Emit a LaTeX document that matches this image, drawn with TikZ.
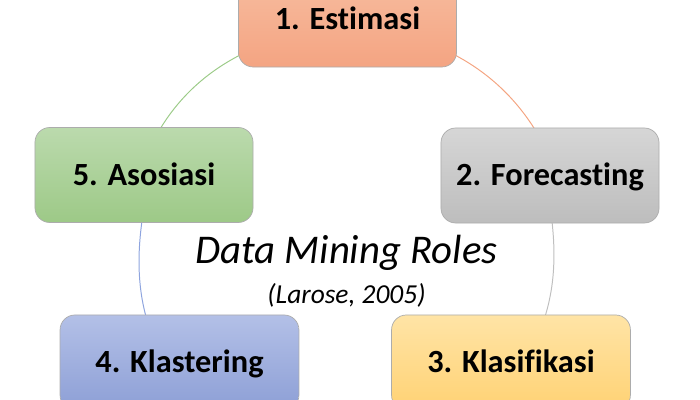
\documentclass[tikz,border=0pt]{standalone}
\usepackage{fontspec}
\setmainfont{Carlito}[Ligatures=NoCommon]
\usetikzlibrary{calc,backgrounds}
\definecolor{orT}{HTML}{F7BDA0}\definecolor{orB}{HTML}{F4A482}
\definecolor{grT}{HTML}{D6D6D6}\definecolor{grB}{HTML}{BDBDBD}
\definecolor{gnT}{HTML}{BBDAAD}\definecolor{gnB}{HTML}{9DC987}
\definecolor{blT}{HTML}{B3C0E7}\definecolor{blB}{HTML}{8D9FD6}
\definecolor{ylT}{HTML}{FFE4A6}\definecolor{ylB}{HTML}{FFD274}
\definecolor{arcG}{HTML}{9CCB88}\definecolor{arcO}{HTML}{F4A582}
\definecolor{arcY}{HTML}{BFBFBF}\definecolor{arcB}{HTML}{8EA4DE}
\begin{document}
\begin{tikzpicture}[x=0.025cm,y=-0.025cm,
  rolebox/.style={draw=gray!65,line width=0.5pt,rounded corners=0.37cm,
    minimum width=5.45cm,minimum height=2.375cm,inner sep=0pt,
    font=\fontsize{23}{27}\selectfont\bfseries,text height=14.8pt,text depth=0pt},
  widebox/.style={rolebox,minimum width=5.97cm},
  cyc/.style={line width=0.7pt}]
\useasboundingbox (0,0) rectangle (700,400);
\node[rolebox,top color=orT,bottom color=orB] (n1) at (347.5,19.5) {1. Estimasi};
\node[rolebox,top color=grT,bottom color=grB] (n2) at (550,175.5) {2. Forecasting};
\node[widebox,top color=ylT,bottom color=ylB] (n3) at (511,362.5) {3. Klasifikasi};
\node[widebox,top color=blT,bottom color=blB] (n4) at (179.5,362.5) {4. Klastering};
\node[rolebox,top color=gnT,bottom color=gnB] (n5) at (144,175) {5. Asosiasi};
\node[font=\fontsize{29}{34}\selectfont\itshape,inner sep=0pt,text height=18.7pt,text depth=0pt] (title) at (346.5,250.5) {Data Mining Roles};
\node[font=\fontsize{19.5}{23}\selectfont\itshape,inner sep=0pt,text height=12.6pt,text depth=0pt] (src) at (346.5,295) {(Larose, 2005)};
\begin{pgfonlayer}{background}
\draw[cyc,arcG] ($(n5.north)+(16,2)$) .. controls (179.3,97.2) and (206.1,72.5) .. ($(n1.west)+(2,35.5)$);
\draw[cyc,arcO] ($(n1.east)+(-2,35.5)$) .. controls (487.9,72.5) and (514.7,97.2) .. ($(n2.north)+(-15,2)$);
\draw[cyc,arcY] ($(n2.south)+(2,-2)$) .. controls (555.5,253) and (555,284.6) .. ($(n3.north)+(34,2)$);
\draw[cyc,arcB] ($(n4.north)+(-33.5,2)$) .. controls (137.5,285) and (137.5,254) .. ($(n5.south)+(-2,-2)$);
\end{pgfonlayer}
\end{tikzpicture}
\end{document}
